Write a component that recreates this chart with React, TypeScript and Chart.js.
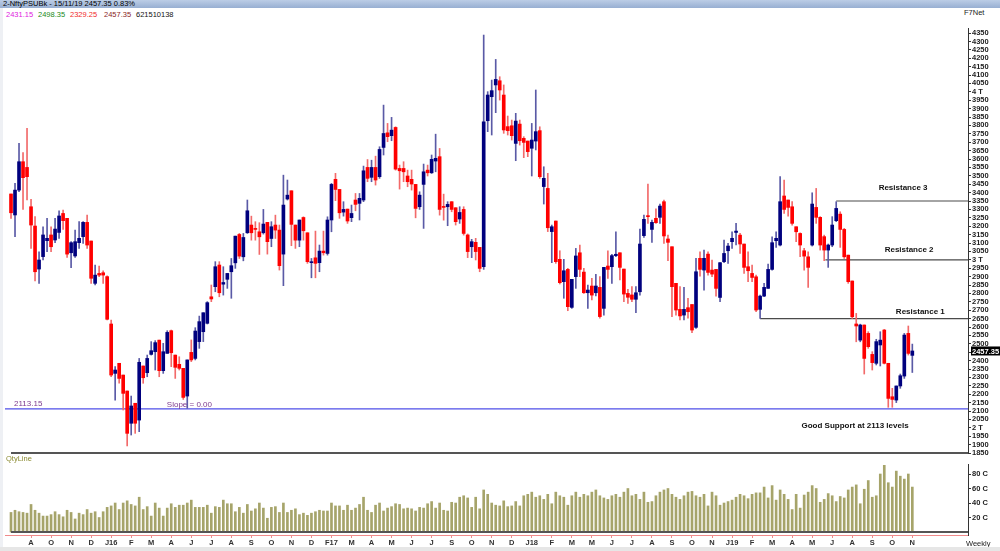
import React, { useEffect, useRef } from "react";
import { Chart, registerables } from "chart.js";
Chart.register(...registerables);
Chart.defaults.font.family = "Liberation Sans, Arial, sans-serif";

// ---- Weekly OHLC (2-NftyPSUBk), Jul 2015 .. 15 Nov 2019 ----
const opens = [
  3392,3267,3415,3584,3550,3316,3201,2945,3019,3114,
  3148,3118,3163,3276,3247,3042,3023,3102,3138,3223,
  3112,2860,2919,2923,2900,2618,2324,2384,2314,2219,
  2027,2146,2046,2368,2328,2437,2453,2522,2340,2443,
  2578,2433,2378,2354,2189,2449,2413,2513,2572,2622,
  2780,2840,2969,2855,2884,2929,2982,3151,3018,3161,
  3207,3187,3167,3161,3223,3127,3207,3177,3034,3362,
  3411,3207,3117,3252,3161,2983,3012,2983,3052,3038,
  3237,3479,3419,3284,3302,3251,3356,3336,3356,3550,
  3491,3550,3495,3669,3756,3739,3788,3544,3544,3499,
  3479,3449,3316,3449,3534,3518,3588,3614,3316,3316,
  3346,3310,3243,3300,3148,3078,3104,3074,2959,3828,
  3971,4041,4066,3981,3793,3798,3693,3808,3723,3707,
  3664,3707,3769,3436,3425,3168,3231,3003,2870,2943,
  2717,2900,3042,2927,2804,2844,2804,2836,2711,2963,
  2959,3025,3042,2945,2800,2791,2765,2810,3144,3263,
  3181,3247,3253,3346,3124,3078,2860,2705,2671,2715,
  2734,2598,3009,2939,3034,2939,2943,2776,2989,3054,
  3108,3163,3147,3094,2959,2919,2899,2705,2784,2830,
  2943,3114,3088,3380,3356,3316,3197,3157,3054,3018,
  3088,3312,3253,3138,3058,3088,3233,3272,3181,3028,
  2874,2618,2522,2612,2562,2437,2384,2493,2582,2384,
  2185,2165,2249,2308,2562,2431.15,
];
const highs = [
  3392,3455,3693,3638,3782,3360,3257,3048,3197,3247,
  3197,3247,3292,3296,3247,3108,3177,3227,3227,3267,
  3112,2969,2963,2935,2904,2642,2364,2384,2314,2219,
  2189,2146,2413,2368,2433,2513,2519,2522,2503,2578,
  2582,2433,2423,2354,2404,2523,2596,2665,2685,2751,
  2850,2989,2989,2959,2919,3008,3141,3157,3157,3356,
  3260,3227,3221,3300,3223,3227,3266,3207,3504,3475,
  3411,3207,3237,3256,3161,3008,3171,3088,3171,3256,
  3455,3515,3419,3346,3302,3326,3395,3395,3558,3597,
  3593,3617,3673,3921,3812,3848,3792,3564,3584,3534,
  3534,3449,3405,3570,3564,3624,3748,3663,3391,3346,
  3346,3310,3316,3316,3154,3122,3128,3074,4338,4001,
  4070,4193,4090,4041,3856,3832,3872,3832,3733,3707,
  3812,4011,3792,3554,3515,3207,3231,3054,3003,2949,
  2884,3068,3088,2949,2850,2890,2914,2900,2955,3054,
  3033,3167,3042,2945,2824,2840,2840,3183,3267,3451,
  3237,3303,3332,3356,3148,3078,2860,2840,2836,2771,
  2734,3009,3048,3058,3048,2999,2943,2983,3118,3098,
  3167,3217,3157,3094,3048,2969,2909,2790,2860,2975,
  3137,3167,3495,3475,3356,3346,3197,3161,3068,3048,
  3399,3425,3257,3147,3094,3257,3346,3286,3187,3028,
  2874,2681,2617,2612,2572,2453,2527,2572,2586,2384,
  2235,2249,2320,2562,2606,2498.35,
];
const lows = [
  3247,3138,3405,3300,3356,3068,2874,2860,2999,3048,
  3048,3102,3128,3181,3015,2953,3015,3068,3098,3068,
  2860,2850,2899,2860,2642,2304,2165,2265,2106,1892,
  1957,1967,1977,2265,2304,2433,2344,2304,2324,2443,
  2364,2294,2344,2169,2116,2394,2404,2473,2513,2618,
  2751,2810,2780,2790,2830,2771,2949,3008,2994,3157,
  3117,3117,3032,3153,3034,3078,3127,2939,2846,3356,
  3084,3068,3078,3117,2979,2893,2893,2929,3028,3028,
  3167,3352,3247,3260,3217,3227,3292,3237,3346,3465,
  3465,3445,3485,3624,3703,3709,3534,3421,3465,3435,
  3415,3250,3300,3187,3499,3514,3524,3266,3236,3203,
  3286,3207,3217,3147,3013,3013,2999,2929,2943,3763,
  3743,3876,3951,3753,3743,3713,3590,3683,3608,3614,
  3499,3654,3485,3332,3168,2983,2979,2856,2771,2697,
  2711,2830,2900,2800,2711,2761,2785,2652,2671,2890,
  2860,3019,2880,2751,2741,2751,2686,2790,3134,3217,
  3104,3217,3217,3098,2995,2662,2671,2642,2642,2652,
  2566,2592,2903,2820,2909,2899,2784,2751,2983,2979,
  3068,3088,3038,2919,2870,2870,2691,2651,2780,2830,
  2939,3074,3082,3276,3260,3207,3108,3018,2939,2836,
  3082,3217,3058,2995,2955,3078,3227,3074,3008,2860,
  2651,2512,2512,2320,2473,2344,2374,2368,2380,2122,
  2122,2150,2235,2294,2433,2329.25,
];
const closes = [
  3280,3415,3584,3489,3495,3207,2929,2999,3148,3128,
  3078,3183,3261,3233,3034,3102,3108,3128,3223,3088,
  2890,2909,2909,2909,2646,2314,2344,2294,2205,1967,
  2130,2027,2390,2298,2413,2459,2507,2340,2453,2568,
  2447,2360,2354,2181,2404,2404,2576,2632,2685,2745,
  2767,2959,2804,2865,2919,2965,3141,3022,3133,3292,
  3161,3181,3137,3213,3108,3197,3177,2965,3326,3385,
  3211,3117,3237,3173,2989,2989,2979,3052,3042,3237,
  3449,3419,3280,3300,3231,3276,3330,3366,3530,3485,
  3550,3475,3657,3752,3733,3772,3540,3530,3524,3465,
  3451,3306,3385,3524,3518,3598,3604,3300,3312,3330,
  3300,3227,3282,3157,3049,3108,3049,2949,3822,3981,
  4007,4074,4011,3773,3769,3739,3826,3709,3699,3644,
  3713,3763,3495,3485,3191,3197,2989,2864,2935,2721,
  2884,3023,2943,2804,2820,2790,2844,2662,2955,2943,
  3025,3033,2955,2796,2777,2765,2804,3094,3241,3257,
  3223,3221,3320,3142,3104,2840,2701,2666,2705,2691,
  2582,2929,2943,3009,2925,2915,2830,2983,3038,3082,
  3128,3171,3094,2955,2935,2895,2701,2784,2836,2943,
  3102,3128,3346,3300,3312,3217,3167,3088,3022,2955,
  3332,3253,3088,3058,3088,3207,3306,3181,3018,2870,
  2661,2606,2612,2413,2483,2388,2513,2522,2384,2175,
  2169,2249,2310,2552,2443,2457.35,
];
// weekly traded quantity, in crore
const volumes = [
  27,30,28,27,26,38,30,26,22,22,
  24,28,24,21,30,27,18,26,24,31,
  26,28,20,28,34,36,40,31,40,43,
  38,36,48,31,35,22,40,33,22,33,
  39,34,37,37,40,44,34,34,34,37,
  26,35,34,44,39,39,28,34,26,38,
  29,32,40,33,19,34,35,27,40,27,
  30,32,24,26,23,26,28,30,29,29,
  40,36,36,30,37,30,33,38,48,30,
  27,37,40,29,33,35,39,38,32,33,
  32,29,34,33,39,42,33,40,30,29,
  41,40,48,50,47,34,48,32,58,52,
  40,37,36,43,35,36,42,36,50,52,
  55,48,50,45,52,39,55,50,48,37,
  50,55,48,52,50,55,58,50,47,45,
  50,52,48,55,60,50,52,45,55,41,
  42,50,55,58,60,52,48,45,50,55,
  56,50,48,52,36,55,50,37,40,42,
  44,48,52,50,46,52,54,54,62,47,
  64,44,58,52,45,31,52,33,51,55,
  64,60,41,45,53,50,42,49,47,58,
  62,65,39,59,71,48,50,80,92,68,
  62,84,77,73,80,62,
];
// time-axis labels, one every 5th week starting at the 6th bar
const tickLabels = [
  "A","O","N","D","J16","F","M","A","J","J","A",
  "S","O","N","D","F17","M","A","M","J","J",
  "S","O","N","D","J18","F","M","M","J","J",
  "A","S","O","N","J19","F","M","A","M","J",
  "A","S","O","N",
];
const volumeTicks = [20, 40, 60, 80];
const supportLevel = 2113.15;
const resistances = [
  { level: 3350, from: 206 },
  { level: 3000, from: 203.3 },
  { level: 2650, from: 187 },
];

const X_MIN = -1.5;
const X_MAX = 238.9;
const BLUE = "#00007e";
const RED = "#ff0000";
const BLUE_WICK = "#5a5aa6";
const RED_WICK = "#f26a6a";
const FONT = "Liberation Sans, Arial, sans-serif";

const isUp = (i: number) => closes[i] >= opens[i];

const priceTickValues: number[] = [];
for (let v = 1850; v <= 4350; v += 50) priceTickValues.push(v);

const notes = [
  { text: "Resistance 3", x: 222.7, y: 3427, align: "center", color: "#111", bold: true },
  { text: "Resistance 2", x: 224.2, y: 3058, align: "center", color: "#111", bold: true },
  { text: "Resistance 1", x: 227.0, y: 2689, align: "center", color: "#111", bold: true },
  { text: "Good Support at 2113 levels", x: 210.7, y: 2011, align: "center", color: "#111", bold: true },
  { text: "2113.15", x: 0.75, y: 2142, align: "left", color: "#7d3a8e", bold: false },
  { text: "Slope = 0.00", x: 38.9, y: 2136, align: "left", color: "#7d3a8e", bold: false },
];

const notesPlugin = {
  id: "notes",
  afterDatasetsDraw(chart: any) {
    const { ctx, scales } = chart;
    ctx.save();
    ctx.textBaseline = "middle";
    for (const n of notes) {
      ctx.font = `${n.bold ? "bold " : ""}8px ${FONT}`;
      ctx.fillStyle = n.color;
      ctx.textAlign = n.align as CanvasTextAlign;
      ctx.fillText(n.text, scales.x.getPixelForValue(n.x), scales.y.getPixelForValue(n.y));
    }
    // last price tag on the price axis
    const last = closes[closes.length - 1];
    const py = scales.y.getPixelForValue(last);
    const left = chart.chartArea.right + 3;
    ctx.fillStyle = "#000";
    ctx.fillRect(left, py - 4.5, chart.width - left, 9);
    ctx.fillStyle = "#fff";
    ctx.textAlign = "left";
    ctx.font = `bold 7.5px ${FONT}`;
    ctx.fillText(last.toFixed(2), left + 1, py + 0.5);
    ctx.restore();
  },
};

function PriceChart() {
  const ref = useRef<HTMLCanvasElement>(null);
  useEffect(() => {
    const wick = highs.map((h, i) => ({ x: i, y: [lows[i], h] }));
    const body = opens.map((o, i) => ({ x: i, y: [o, closes[i]] }));
    const hline = (y: number, from: number) => [
      { x: from, y },
      { x: X_MAX, y },
    ];
    const chart = new Chart(ref.current!, {
      type: "bar",
      data: {
        datasets: [
          {
            type: "bar",
            data: body as any,
            barThickness: 3,
            minBarLength: 1,
            grouped: false,
            order: 0,
            backgroundColor: (c: any) => (isUp(c.dataIndex) ? BLUE : RED),
          },
          {
            type: "bar",
            data: wick as any,
            barThickness: 1,
            grouped: false,
            order: 1,
            backgroundColor: (c: any) => (isUp(c.dataIndex) ? BLUE_WICK : RED_WICK),
          },
          {
            type: "line",
            data: hline(supportLevel, X_MIN) as any,
            borderColor: "#4f4fe8",
            borderWidth: 1.3,
            pointRadius: 0,
            order: 2,
            clip: false as any,
          },
          ...resistances.map((r) => ({
            type: "line" as const,
            data: hline(r.level, r.from) as any,
            borderColor: "#4a4a4a",
            borderWidth: 1.2,
            pointRadius: 0,
            order: 2,
            clip: false as any,
          })),
          {
            type: "line",
            data: hline(1850, 0) as any,
            borderColor: "#555",
            borderWidth: 2,
            pointRadius: 0,
            order: 3,
            clip: false as any,
          },
        ],
      },
      options: {
        animation: false,
        responsive: false,
        devicePixelRatio: 1,
        layout: { padding: { left: 5, right: 0, top: 28, bottom: 7 } },
        plugins: { legend: { display: false }, tooltip: { enabled: false } },
        scales: {
          x: {
            type: "linear",
            min: X_MIN,
            max: X_MAX,
            offset: false,
            grid: { offset: false },
            display: false,
          },
          y: {
            position: "right",
            min: 1850,
            max: 4380,
            afterBuildTicks: (s: any) => {
              s.ticks = priceTickValues.map((v) => ({ value: v }));
            },
            afterFit: (s: any) => {
              s.width = 32;
            },
            grid: { drawOnChartArea: false, tickLength: 3, color: "#333" },
            border: { color: "#333" },
            ticks: {
              autoSkip: false,
              padding: 1,
              color: "#222",
              font: { size: 7.5, weight: "bold" },
              callback: (v: any) => (v % 1000 === 0 ? `${v / 1000} T` : String(v)),
            },
          },
        },
      },
      plugins: [notesPlugin],
    } as any);
    return () => chart.destroy();
  }, []);
  return (
    <canvas
      ref={ref}
      width={1000}
      height={460}
      style={{ position: "absolute", left: 0, top: 0, width: 1000, height: 460 }}
    />
  );
}

function VolumeChart() {
  const ref = useRef<HTMLCanvasElement>(null);
  useEffect(() => {
    const chart = new Chart(ref.current!, {
      type: "bar",
      data: {
        datasets: [
          {
            type: "bar",
            data: volumes.map((v, i) => ({ x: i, y: v })) as any,
            barThickness: 2,
            grouped: false,
            backgroundColor: "#a6a46a",
            order: 1,
          },
          {
            type: "line",
            data: [
              { x: 0, y: 0 },
              { x: X_MAX, y: 0 },
            ] as any,
            borderColor: "#555",
            borderWidth: 2,
            pointRadius: 0,
            order: 0,
            clip: false as any,
          },
        ],
      },
      options: {
        animation: false,
        responsive: false,
        devicePixelRatio: 1,
        layout: { padding: { left: 5, right: 0, top: 9, bottom: 2 } },
        plugins: { legend: { display: false }, tooltip: { enabled: false } },
        scales: {
          x: {
            type: "linear",
            min: X_MIN,
            max: X_MAX,
            offset: false,
            afterBuildTicks: (s: any) => {
              s.ticks = tickLabels.map((_, i) => ({ value: 5 + 5 * i }));
            },
            afterFit: (s: any) => {
              s.height = 14;
            },
            grid: { drawOnChartArea: false, offset: false, tickLength: 3, color: "#f08a8a" },
            border: { color: "#f08a8a" },
            ticks: {
              autoSkip: false,
              maxRotation: 0,
              padding: 0,
              color: "#333",
              font: { size: 7.5, weight: "bold" },
              callback: (_v: any, i: number) => tickLabels[i],
            },
          },
          y: {
            position: "right",
            min: -4.1,
            max: 93.8,
            afterBuildTicks: (s: any) => {
              s.ticks = volumeTicks.map((v) => ({ value: v }));
            },
            afterFit: (s: any) => {
              s.width = 32;
            },
            grid: { drawOnChartArea: false, tickLength: 3, color: "#333" },
            border: { color: "#333" },
            ticks: {
              autoSkip: false,
              padding: 1,
              color: "#222",
              font: { size: 7.5, weight: "bold" },
              callback: (v: any) => `${v} C`,
            },
          },
        },
      },
    } as any);
    return () => chart.destroy();
  }, []);
  return (
    <canvas
      ref={ref}
      width={1000}
      height={96}
      style={{ position: "absolute", left: 0, top: 455, width: 1000, height: 96 }}
    />
  );
}

export default function App() {
  const txt: React.CSSProperties = {
    position: "absolute",
    fontFamily: FONT,
    fontSize: 7.5,
    lineHeight: "9px",
    whiteSpace: "nowrap",
  };
  const info = [
    { t: opens[opens.length - 1].toFixed(2), c: "#e020e0", x: 6 },
    { t: highs[highs.length - 1].toFixed(2), c: "#208a20", x: 38 },
    { t: lows[lows.length - 1].toFixed(2), c: "#f02a2a", x: 70 },
    { t: closes[closes.length - 1].toFixed(2), c: "#8a1e1e", x: 104 },
    { t: "621510138", c: "#111", x: 136 },
  ];
  return (
    <div
      style={{
        position: "fixed",
        left: 0,
        top: 0,
        width: 1000,
        height: 551,
        background: "#fff",
        overflow: "hidden",
      }}
    >
      <div
        style={{
          ...txt,
          left: 0,
          top: 0,
          width: 1000,
          height: 8,
          lineHeight: "8px",
          paddingLeft: 3,
          background: "linear-gradient(#bccde6, #98afd2)",
          color: "#000",
        }}
      >
        2-NftyPSUBk - 15/11/19 2457.35 0.83%
      </div>
      <div style={{ position: "absolute", left: 0, top: 8, width: 3, height: 543, background: "#eef0f4" }} />
      {info.map((s) => (
        <div key={s.x} style={{ ...txt, left: s.x, top: 10, color: s.c }}>
          {s.t}
        </div>
      ))}
      <div style={{ ...txt, left: 964, top: 8, color: "#222" }}>F7Net</div>
      <PriceChart />
      <VolumeChart />
      <div style={{ ...txt, left: 6, top: 454, color: "#8a8a30" }}>QtyLine</div>
      <div style={{ ...txt, left: 966, top: 539, color: "#222" }}>Weekly</div>
      <div style={{ position: "absolute", left: 0, top: 547, width: 1000, height: 4, background: "#e6e6e6" }} />
    </div>
  );
}
